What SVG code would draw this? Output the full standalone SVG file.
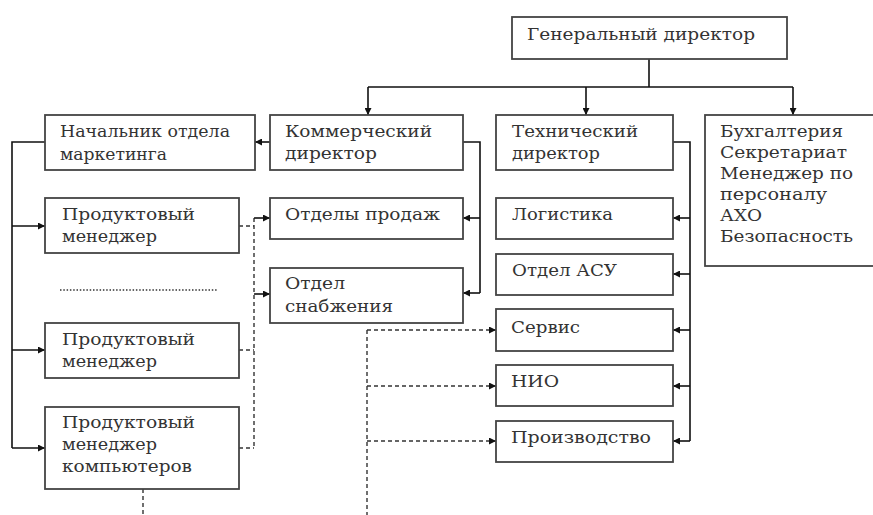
<svg xmlns="http://www.w3.org/2000/svg" width="873" height="515" viewBox="0 0 873 515">
<defs>
<marker id="ah" viewBox="0 0 10 10" refX="10" refY="5" markerWidth="8" markerHeight="7" markerUnits="userSpaceOnUse" orient="auto">
<path d="M0,0 L10,5 L0,10 z" fill="#111"/>
</marker>
<style>
.box{fill:#fff;stroke:#444;stroke-width:1.8}
.t{font-family:"DejaVu Serif","Liberation Serif",serif;font-size:16px;fill:#333}
.c{fill:none;stroke:#111;stroke-width:1.6}
.d{fill:none;stroke:#333;stroke-width:1.4;stroke-dasharray:4 3}
.a{marker-end:url(#ah)}
</style>
</defs>
<rect width="873" height="515" fill="#fff"/>
<g id="connectors">
<path class="c" d="M649,59 V87 M368,87 H793"/>
<path class="c a" d="M368,87 V115"/>
<path class="c a" d="M586,87 V115"/>
<path class="c a" d="M793,87 V115"/>
<path class="c a" d="M270,142 H255"/>
<path class="c" d="M45,142 H12 V448"/>
<path class="c a" d="M12,226 H45"/>
<path class="c a" d="M12,350 H45"/>
<path class="c a" d="M12,448 H45"/>
<path class="c" d="M463,142 H480 V293"/>
<path class="c a" d="M480,218 H463"/>
<path class="c a" d="M480,293 H463"/>
<path class="c" d="M673,142 H690 V441"/>
<path class="c a" d="M690,218 H673"/>
<path class="c a" d="M690,274 H673"/>
<path class="c a" d="M690,330 H673"/>
<path class="c a" d="M690,386 H673"/>
<path class="c a" d="M690,441 H673"/>
<path class="d" d="M239,226 H254 M254,218 V448 M239,350 H254 M239,448 H254"/>
<path class="c a" d="M254,218 H270"/>
<path class="c a" d="M254,294 H270"/>
<path class="d" d="M143,489 V515 M367,330 V515"/>
<path class="d a" d="M367,330 H496"/>
<path class="d a" d="M367,386 H496"/>
<path class="d a" d="M367,441 H496"/>
<path fill="none" stroke="#333" stroke-width="1.6" stroke-dasharray="1.5 1.8" d="M60,290 H218"/>
</g>
<g id="gd"><rect class="box" x="512" y="17" width="275" height="42"/><text class="t" x="527" y="40" textLength="228" lengthAdjust="spacingAndGlyphs">Генеральный директор</text></g>
<g id="nach"><rect class="box" x="45" y="115" width="210" height="55"/><text class="t" x="60" y="137" textLength="170" lengthAdjust="spacingAndGlyphs">Начальник отдела</text><text class="t" x="60" y="160" textLength="107" lengthAdjust="spacingAndGlyphs">маркетинга</text></g>
<g id="komm"><rect class="box" x="270" y="115" width="193" height="55"/><text class="t" x="285" y="137" textLength="147" lengthAdjust="spacingAndGlyphs">Коммерческий</text><text class="t" x="285" y="159" textLength="92" lengthAdjust="spacingAndGlyphs">директор</text></g>
<g id="tech"><rect class="box" x="496" y="115" width="177" height="55"/><text class="t" x="512" y="137" textLength="126" lengthAdjust="spacingAndGlyphs">Технический</text><text class="t" x="512" y="159" textLength="88" lengthAdjust="spacingAndGlyphs">директор</text></g>
<g id="buh"><rect class="box" x="705" y="115" width="180" height="151"/>
<text class="t" x="720" y="137" textLength="123" lengthAdjust="spacingAndGlyphs">Бухгалтерия</text>
<text class="t" x="720" y="158" textLength="127" lengthAdjust="spacingAndGlyphs">Секретариат</text>
<text class="t" x="720" y="179" textLength="133" lengthAdjust="spacingAndGlyphs">Менеджер по</text>
<text class="t" x="720" y="200" textLength="107" lengthAdjust="spacingAndGlyphs">персоналу</text>
<text class="t" x="720" y="221" textLength="42" lengthAdjust="spacingAndGlyphs">АХО</text>
<text class="t" x="720" y="242" textLength="133" lengthAdjust="spacingAndGlyphs">Безопасность</text></g>
<g id="pm1"><rect class="box" x="45" y="198" width="194" height="55"/><text class="t" x="62" y="220" textLength="133" lengthAdjust="spacingAndGlyphs">Продуктовый</text><text class="t" x="62" y="242" textLength="95" lengthAdjust="spacingAndGlyphs">менеджер</text></g>
<g id="pm2"><rect class="box" x="45" y="323" width="194" height="55"/><text class="t" x="62" y="345" textLength="133" lengthAdjust="spacingAndGlyphs">Продуктовый</text><text class="t" x="62" y="367" textLength="95" lengthAdjust="spacingAndGlyphs">менеджер</text></g>
<g id="pm3"><rect class="box" x="45" y="407" width="194" height="82"/><text class="t" x="62" y="428" textLength="133" lengthAdjust="spacingAndGlyphs">Продуктовый</text><text class="t" x="62" y="450" textLength="95" lengthAdjust="spacingAndGlyphs">менеджер</text><text class="t" x="62" y="472" textLength="130" lengthAdjust="spacingAndGlyphs">компьютеров</text></g>
<g id="prod"><rect class="box" x="270" y="198" width="193" height="41"/><text class="t" x="285" y="220" textLength="155" lengthAdjust="spacingAndGlyphs">Отделы продаж</text></g>
<g id="snab"><rect class="box" x="270" y="268" width="193" height="55"/><text class="t" x="285" y="289" textLength="60" lengthAdjust="spacingAndGlyphs">Отдел</text><text class="t" x="285" y="312" textLength="108" lengthAdjust="spacingAndGlyphs">снабжения</text></g>
<g id="log"><rect class="box" x="496" y="198" width="177" height="41"/><text class="t" x="512" y="220" textLength="101" lengthAdjust="spacingAndGlyphs">Логистика</text></g>
<g id="asu"><rect class="box" x="496" y="254" width="177" height="41"/><text class="t" x="512" y="276" textLength="105" lengthAdjust="spacingAndGlyphs">Отдел АСУ</text></g>
<g id="serv"><rect class="box" x="496" y="309" width="177" height="42"/><text class="t" x="511" y="333" textLength="69" lengthAdjust="spacingAndGlyphs">Сервис</text></g>
<g id="nio"><rect class="box" x="496" y="365" width="177" height="41"/><text class="t" x="511" y="387" textLength="48" lengthAdjust="spacingAndGlyphs">НИО</text></g>
<g id="proizv"><rect class="box" x="496" y="421" width="177" height="41"/><text class="t" x="511" y="443" textLength="140" lengthAdjust="spacingAndGlyphs">Производство</text></g>
</svg>
